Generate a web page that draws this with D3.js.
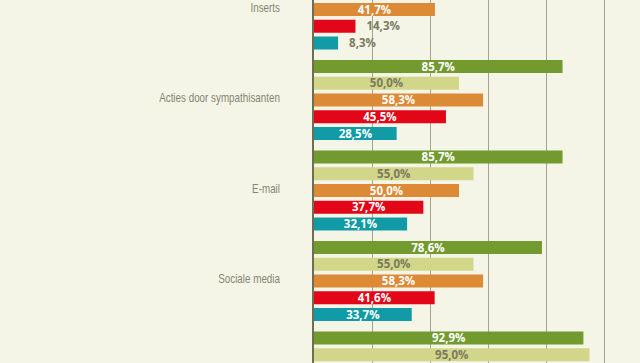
<!DOCTYPE html>
<html>
<head>
<meta charset="utf-8">
<script src="https://cdn.jsdelivr.net/npm/d3@7"></script>
<style>
    html, body { margin: 0; padding: 0; background: #f4f5e7; }
    svg { display: block; }
</style>
</head>
<body>
<div id="chart"></div>
<script>
// ── Data (only what is visible in the crop; null = off-screen) ──
const categories = ["Inserts", "Acties door sympathisanten", "E-mail", "Sociale media", ""];
const series = ["s1", "s2", "s3", "s4", "s5"];
const seriesColors = ["#739a2f", "#d1d689", "#dc8a36", "#e30618", "#109ba6"];
const values = [
    [null, null, 41.7, 14.3, 8.3],
    [85.7, 50.0, 58.3, 45.5, 28.5],
    [85.7, 55.0, 50.0, 37.7, 32.1],
    [78.6, 55.0, 58.3, 41.6, 33.7],
    [92.9, 95.0, null, null, null]
];
const gridTicks = [20, 40, 60, 80, 100];

function init() {
    const width = 640, height = 363;

    const svg = d3.select("#chart").append("svg")
        .attr("width", width)
        .attr("height", height);

    svg.append("rect")
        .attr("width", width).attr("height", height)
        .attr("fill", "#f4f5e7");

    const x = d3.scaleLinear().domain([0, 100]).range([314, 604]);

    const groupStep = 90.5;
    const yGroup = d3.scaleBand()
        .domain(categories)
        .range([-30.5, -30.5 + groupStep * categories.length])
        .padding(0);

    const yBar = d3.scaleBand()
        .domain(series)
        .range([0, 80])
        .paddingInner(0.224)
        .paddingOuter(0);

    const nl = d3.formatLocale({decimal: ",", thousands: ".", grouping: [3], currency: ["€", ""]});
    const fmt = v => nl.format(".1f")(v) + "%";

    // ── Gridlines ──
    svg.append("g")
        .selectAll("line")
        .data(gridTicks)
        .join("line")
        .attr("x1", d => x(d) + 0.5).attr("x2", d => x(d) + 0.5)
        .attr("y1", 0).attr("y2", height)
        .attr("stroke", "#a3a38c")
        .attr("stroke-width", 1);

    const rows = categories.flatMap((c, i) =>
        series.map((s, j) => ({cat: c, s: s, j: j, v: values[i][j]}))
    ).filter(d => d.v !== null);

    // ── Bars ──
    svg.append("g")
        .selectAll("rect")
        .data(rows)
        .join("rect")
        .attr("x", x(0))
        .attr("y", d => yGroup(d.cat) + yBar(d.s))
        .attr("width", d => x(d.v) - x(0))
        .attr("height", yBar.bandwidth())
        .attr("fill", d => seriesColors[d.j]);

    // ── Value labels ──
    svg.append("g")
        .selectAll("text")
        .data(rows)
        .join("text")
        .attr("x", d => d.v < 20 ? x(d.v) + 11 : (x(0) + x(d.v)) / 2)
        .attr("y", d => yGroup(d.cat) + yBar(d.s) + yBar.bandwidth() / 2)
        .attr("dy", "0.36em")
        .attr("text-anchor", d => d.v < 20 ? "start" : "middle")
        .attr("font-family", "'Open Sans', sans-serif")
        .attr("font-weight", 700)
        .attr("font-size", "11.5px")
        .attr("fill", d => (d.v < 20 || d.j === 1) ? "#7b7b60" : "#ffffff")
        .text(d => fmt(d.v));

    // ── Category labels (narrow face: horizontally squeezed) ──
    const squeeze = 0.82;
    svg.append("g")
        .attr("transform", `scale(${squeeze},1)`)
        .selectAll("text")
        .data(categories)
        .join("text")
        .attr("x", 280 / squeeze)
        .attr("y", d => yGroup(d) + yBar("s3") + yBar.bandwidth() / 2 - 2)
        .attr("dy", "0.35em")
        .attr("text-anchor", "end")
        .attr("font-family", "'Liberation Sans', Arial, sans-serif")
        .attr("font-size", "12px")
        .attr("fill", "#85856f")
        .text(d => d);

    // ── Axis line ──
    svg.append("line")
        .attr("x1", x(0) - 1).attr("x2", x(0) - 1)
        .attr("y1", 0).attr("y2", height)
        .attr("stroke", "#6e6e52")
        .attr("stroke-width", 2);
}

init();
</script>
</body>
</html>
